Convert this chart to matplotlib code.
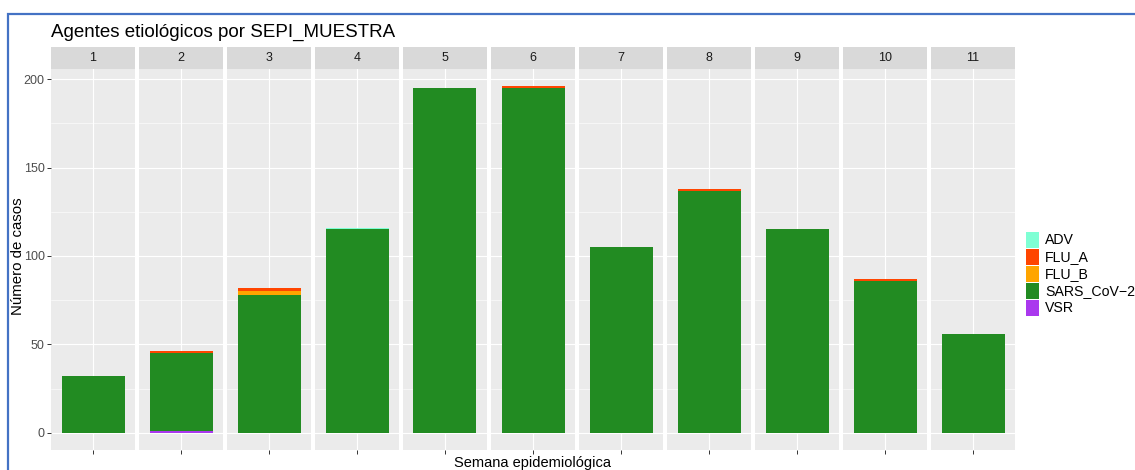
import matplotlib
matplotlib.use("Agg")
import matplotlib.pyplot as plt
from matplotlib.patches import Rectangle
from matplotlib import font_manager

# ---------------- data ----------------
weeks = ["1", "2", "3", "4", "5", "6", "7", "8", "9", "10", "11"]
agents = ["ADV", "FLU_A", "FLU_B", "SARS_CoV−2", "VSR"]
adv = [0, 0, 0, 1, 0, 0, 0, 0, 0, 0, 0]
flu_a = [0, 1, 2, 0, 0, 1, 0, 1, 0, 1, 0]
flu_b = [0, 0, 2, 0, 0, 0, 0, 0, 0, 0, 0]
sars = [32, 44, 78, 115, 195, 195, 105, 137, 115, 86, 56]
vsr = [0, 1, 0, 0, 0, 0, 0, 0, 0, 0, 0]
yticks = [0, 50, 100, 150, 200]

colors = {"ADV": "#7FFFD4", "FLU_A": "#FF4500", "FLU_B": "#FFA500",
          "SARS_CoV−2": "#228B22", "VSR": "#AA38EE"}
series = {"ADV": adv, "FLU_A": flu_a, "FLU_B": flu_b, "SARS_CoV−2": sars, "VSR": vsr}
stack_order = ["VSR", "SARS_CoV−2", "FLU_B", "FLU_A", "ADV"]  # bottom -> top

# ---------------- fonts ----------------
names = {f.name for f in font_manager.fontManager.ttflist}
narrow = "Liberation Sans Narrow" in names
base = "Liberation Sans"
tfam = "Liberation Sans Narrow" if narrow else base
plt.rcParams["font.family"] = [base, "DejaVu Sans"]

W, H = 1135, 470
fig = plt.figure(figsize=(W / 100, H / 100), dpi=100)
fig.patch.set_facecolor("white")


def fx(px):
    return px / W


def fy(py):
    return 1 - py / H


# blue frame
fig.add_artist(Rectangle((fx(8), fy(480)), fx(1140) - fx(8), fy(14) - fy(480),
                         transform=fig.transFigure, fill=False,
                         edgecolor="#4472C4", linewidth=1.6, clip_on=False))

ymin, ymax = -9.8, 205.8
p_top, p_bot = 69, 450
for i, w in enumerate(weeks):
    left = 51 + 88 * i
    ax = fig.add_axes([fx(left), fy(p_bot), 84 / W, (p_bot - p_top) / H])
    ax.set_facecolor("#EBEBEB")
    ax.set_xlim(0.4, 1.6)
    ax.set_ylim(ymin, ymax)
    ax.set_yticks(yticks)
    ax.set_yticks([25, 75, 125, 175], minor=True)
    ax.set_xticks([1])
    ax.set_xticklabels([""])
    ax.grid(which="major", color="white", linewidth=0.8)
    ax.grid(which="minor", axis="y", color="white", linewidth=0.4)
    ax.set_axisbelow(True)
    for s in ax.spines.values():
        s.set_visible(False)
    bottom = 0
    for name in stack_order:
        v = series[name][i]
        if v > 0:
            ax.bar(1, v, width=0.9, bottom=bottom, color=colors[name], linewidth=0)
            bottom += v
    ax.tick_params(which="major", length=3, width=0.7, color="#333333",
                   labelsize=9, labelcolor="#4D4D4D", pad=1.5)
    ax.tick_params(which="minor", length=0)
    if i > 0:
        ax.tick_params(axis="y", which="both", left=False, labelleft=False)

    sax = fig.add_axes([fx(left), fy(p_top), 84 / W, 22 / H])
    sax.set_facecolor("#D9D9D9")
    sax.set_xticks([])
    sax.set_yticks([])
    for s in sax.spines.values():
        s.set_visible(False)
    sax.text(0.5, 0.5, w, ha="center", va="center", fontsize=9,
             color="#1A1A1A", transform=sax.transAxes)

# title
fig.text(fx(51), fy(37), "Agentes etiológicos por SEPI_MUESTRA",
         family=[tfam, "DejaVu Sans"], fontsize=16 if narrow else 13.5,
         ha="left", va="baseline", color="black")

# axis labels
fig.text(fx(18), fy(256), "Número de casos", rotation=90, fontsize=10.8,
         ha="center", va="center", color="black")
fig.text(fx(533), fy(466.5), "Semana epidemiológica", fontsize=10.5,
         ha="center", va="baseline", color="black")

# legend
for k, name in enumerate(agents):
    y0 = 232 + 17 * k
    fig.add_artist(Rectangle((fx(1026), fy(y0 + 16)), 13 / W, 16 / H,
                             transform=fig.transFigure, facecolor=colors[name],
                             edgecolor="none"))
    fig.text(fx(1045), fy(y0 + 8.5), name, family=[tfam, "DejaVu Sans"],
             fontsize=11.5 if narrow else 10.2, ha="left", va="center", color="black")

fig.savefig("out.png", dpi=100, facecolor="white")
